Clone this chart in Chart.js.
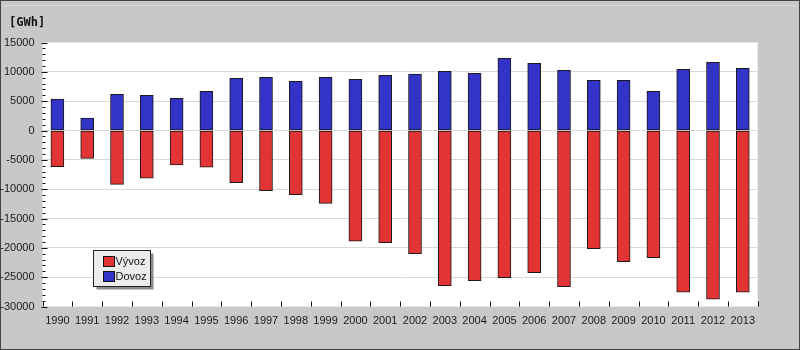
<!DOCTYPE html>
<html>
<head>
<meta charset="utf-8">
<script src="https://cdn.jsdelivr.net/npm/chart.js@4.4.1/dist/chart.umd.min.js"></script>
<style>
    html, body { margin: 0; padding: 0; background: #c8c8c8; }
    #wrap { position: relative; width: 800px; height: 350px; }
</style>
</head>
<body>
<div id="wrap"><canvas id="energyChart" width="800" height="350"></canvas></div>
<script>
const years = ['1990', '1991', '1992', '1993', '1994', '1995', '1996', '1997', '1998', '1999', '2000', '2001',
    '2002', '2003', '2004', '2005', '2006', '2007', '2008', '2009', '2010', '2011', '2012', '2013'];

// export is negative, import positive [GWh]
const vyvoz = [-6170, -4740, -9170, -8140, -5880, -6270, -8900, -10260, -10940, -12410, -18880, -19120,
    -21000, -26450, -25590, -25090, -24230, -26620, -20140, -22360, -21670, -27570, -28770, -27570];
const dovoz = [5340, 2120, 6170, 6000, 5480, 6680, 8890, 9060, 8390, 9060, 8730, 9400,
    9630, 10090, 9750, 12300, 11450, 10260, 8560, 8560, 6680, 10430, 11620, 10600];

const yMin = -30000;
const yMax = 15000;
const yStep = 5000;
const yMinorStep = 1000;
const unitLabel = '[GWh]';

const textFont = { family: '"Liberation Sans", Arial, sans-serif', size: 11 };

const frame = {
    id: 'frame',
    beforeDraw: (chart) => {
        const { ctx, chartArea } = chart;
        ctx.save();
        ctx.fillStyle = '#c8c8c8';
        ctx.fillRect(0, 0, chart.width, chart.height);
        ctx.strokeStyle = '#dadada';
        ctx.beginPath();
        ctx.moveTo(4, 5.5);
        ctx.lineTo(chart.width - 4, 5.5);
        ctx.stroke();
        ctx.strokeStyle = '#444';
        ctx.strokeRect(0.5, 0.5, chart.width - 1, chart.height - 1);
        ctx.fillStyle = '#ffffff';
        ctx.fillRect(chartArea.left, chartArea.top, chartArea.right - chartArea.left, chartArea.bottom - chartArea.top);

        ctx.fillStyle = '#111';
        ctx.font = 'bold 12px "DejaVu Sans Mono", monospace';
        ctx.textBaseline = 'alphabetic';
        ctx.fillText(unitLabel, 9, 26);
        ctx.restore();
    },
    afterDraw: (chart) => {
        const { ctx, chartArea } = chart;
        const yScale = chart.scales.y;
        ctx.save();
        ctx.strokeStyle = '#111';
        ctx.lineWidth = 1;
        ctx.beginPath();

        // y ticks, minor every 1000, pointing into the plot
        for (let v = yMin; v <= yMax; v += yMinorStep) {
            const y = Math.round(yScale.getPixelForValue(v)) + 0.5;
            const major = v % yStep === 0;
            ctx.moveTo(chartArea.left - (major ? 1 : 0), y);
            ctx.lineTo(chartArea.left + (major ? 5 : 3), y);
        }

        // x ticks on the category boundaries
        const n = years.length;
        const w = (chartArea.right - chartArea.left) / n;
        for (let i = 0; i <= n; i++) {
            const x = Math.round(chartArea.left + i * w) + 0.5;
            ctx.moveTo(x, chartArea.bottom);
            ctx.lineTo(x, chartArea.bottom - 5);
        }
        ctx.stroke();

        // legend box
        const lx = Math.round(chartArea.left) + 50.5;
        const ly = 250.5;
        const lw = 57;
        const lh = 36;
        ctx.fillStyle = '#8c8c8c';
        ctx.fillRect(lx + 3, ly + 3, lw, lh);
        ctx.fillStyle = '#ececec';
        ctx.fillRect(lx, ly, lw, lh);
        ctx.strokeStyle = '#222';
        ctx.strokeRect(lx, ly, lw, lh);

        ctx.font = `${textFont.size}px ${textFont.family}`;
        ctx.textBaseline = 'middle';
        chart.data.datasets.forEach((ds, i) => {
            const sy = ly + 6 + i * 15;
            ctx.fillStyle = ds.backgroundColor;
            ctx.fillRect(lx + 10, sy, 11, 10);
            ctx.strokeStyle = '#111';
            ctx.strokeRect(lx + 10, sy, 11, 10);
            ctx.fillStyle = '#111';
            ctx.fillText(ds.label, lx + 22, sy + 5.5);
        });
        ctx.restore();
    },
};

new Chart(document.getElementById('energyChart'), {
    type: 'bar',
    data: {
        labels: years,
        datasets: [
            {
                label: 'Vývoz',
                data: vyvoz,
                backgroundColor: '#e23434',
                borderColor: '#1a1a1a',
                borderWidth: 1,
                borderSkipped: false,
                barThickness: 13,
            },
            {
                label: 'Dovoz',
                data: dovoz,
                backgroundColor: '#3333c8',
                borderColor: '#1a1a1a',
                borderWidth: 1,
                borderSkipped: false,
                barThickness: 13,
            },
        ],
    },
    options: {
        responsive: false,
        animation: false,
        layout: { padding: { top: 42.5, right: 42.3, left: 0, bottom: 0 } },
        plugins: {
            legend: { display: false },
            tooltip: { enabled: false },
        },
        scales: {
            x: {
                stacked: true,
                grid: { display: false, drawTicks: false },
                border: { display: false },
                ticks: {
                    color: '#1a1a1a',
                    font: textFont,
                    padding: 8,
                    maxRotation: 0,
                    autoSkip: false,
                },
                afterFit: (scale) => { scale.height = 43.5; },
            },
            y: {
                stacked: true,
                min: yMin,
                max: yMax,
                grid: {
                    drawTicks: false,
                    color: (ctx) => (ctx.tick && (ctx.tick.value === yMin || ctx.tick.value === yMax)) ? 'rgba(0,0,0,0)' : '#d9d9d9',
                },
                border: { display: false },
                ticks: {
                    stepSize: yStep,
                    color: '#1a1a1a',
                    font: textFont,
                    padding: 8,
                    callback: (value) => String(value),
                },
                afterFit: (scale) => { scale.width = 42.5; },
            },
        },
    },
    plugins: [frame],
});
</script>
</body>
</html>
